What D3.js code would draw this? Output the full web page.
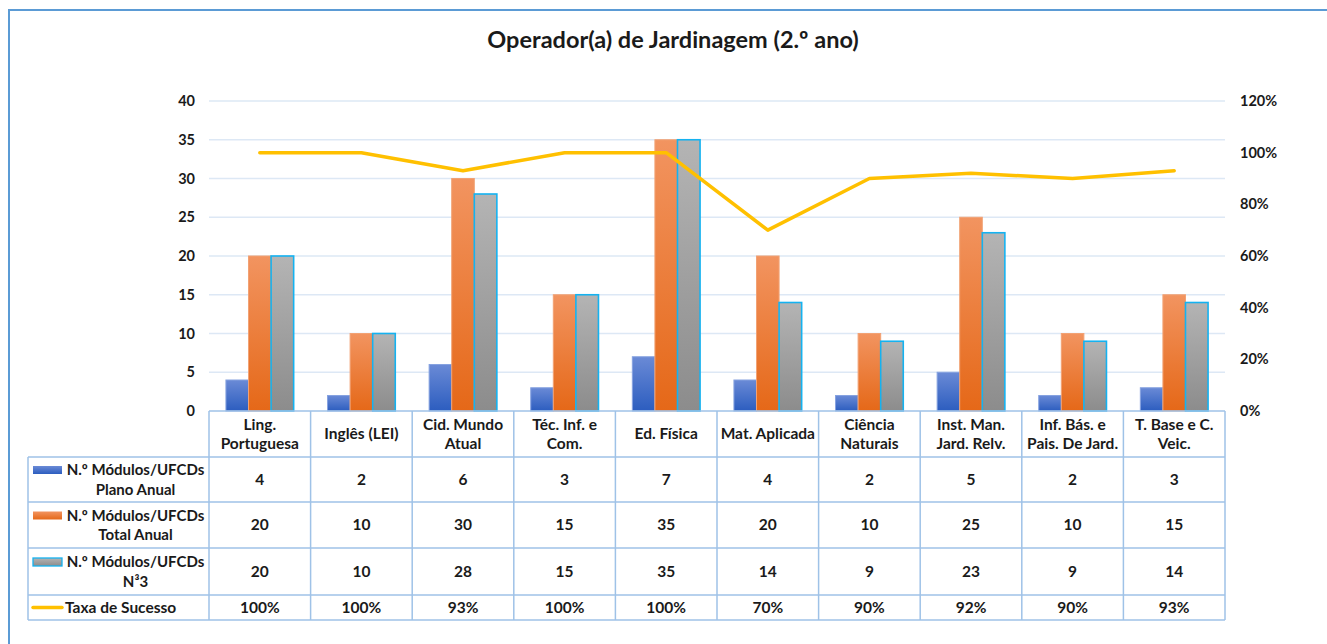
<!DOCTYPE html>
<html>
<head>
<meta charset="utf-8">
<script src="https://cdn.jsdelivr.net/npm/d3@7/dist/d3.min.js"></script>
<style>
  html, body { margin: 0; padding: 0; background: #fff; }
  svg { display: block; }
  text { font-family: Lato, "Open Sans", sans-serif; font-weight: bold; fill: #1a1a1a; }
</style>
</head>
<body>
<svg id="chart" width="1327" height="644"></svg>
<script>
// Chart data
const categories = [
  ['Ling.', 'Portuguesa'], ['Inglês (LEI)'], ['Cid. Mundo', 'Atual'], ['Téc. Inf. e', 'Com.'],
  ['Ed. Física'], ['Mat. Aplicada'], ['Ciência', 'Naturais'], ['Inst. Man.', 'Jard. Relv.'],
  ['Inf. Bás. e', 'Pais. De Jard.'], ['T. Base e C.', 'Veic.']
];
const planoAnual = [4, 2, 6, 3, 7, 4, 2, 5, 2, 3];
const totalAnual = [20, 10, 30, 15, 35, 20, 10, 25, 10, 15];
const nivel3 = [20, 10, 28, 15, 35, 14, 9, 23, 9, 14];
const taxaSucesso = [1.00, 1.00, 0.93, 1.00, 1.00, 0.70, 0.90, 0.92, 0.90, 0.93];
const seriesNames = [
  ['N.º Módulos/UFCDs', 'Plano Anual'],
  ['N.º Módulos/UFCDs', 'Total Anual'],
  ['N.º Módulos/UFCDs', 'N³3'],
  ['Taxa de Sucesso']
];
const leftTicks = [0, 5, 10, 15, 20, 25, 30, 35, 40];
const rightTicks = [0, 0.2, 0.4, 0.6, 0.8, 1.0, 1.2];

const svg = d3.select('#chart');
const plot = { left: 209, right: 1225, top: 101, bottom: 411 };
const gridColor = '#dde8f5';
const tableColor = '#9fc2e7';
const tableFont = '15.5px';

// outer frame (right and bottom edges fall outside the window)
svg.append('path')
  .attr('d', 'M 9,650 V 10 H 1340')
  .attr('fill', 'none')
  .attr('stroke', '#5b9bd5')
  .attr('stroke-width', 2);

svg.append('text')
  .attr('x', 673).attr('y', 48)
  .attr('text-anchor', 'middle')
  .style('font-size', '23.5px')
  .text('Operador(a) de Jardinagem (2.º ano)');

const x = d3.scaleBand().domain(d3.range(categories.length)).range([plot.left, plot.right]);
const xInner = d3.scaleBand().domain([0, 1, 2]).range([0, x.bandwidth()]).paddingInner(0).paddingOuter(0.75);
const y = d3.scaleLinear().domain([0, 40]).range([plot.bottom, plot.top]);
const y2 = d3.scaleLinear().domain([0, 1.2]).range([plot.bottom, plot.top]);

// gridlines
svg.append('g').selectAll('line').data(leftTicks.slice(1)).join('line')
  .attr('x1', plot.left).attr('x2', plot.right)
  .attr('y1', d => y(d)).attr('y2', d => y(d))
  .attr('stroke', gridColor).attr('stroke-width', 1.3);

// axes
const leftAxis = svg.append('g')
  .attr('transform', `translate(${plot.left - 10},0)`)
  .call(d3.axisLeft(y).tickValues(leftTicks).tickSize(0).tickPadding(4));
const rightAxis = svg.append('g')
  .attr('transform', `translate(${plot.right + 10},0)`)
  .call(d3.axisRight(y2).tickValues(rightTicks).tickSize(0).tickPadding(5).tickFormat(d3.format('.0%')));
[leftAxis, rightAxis].forEach(a => {
  a.select('.domain').remove();
  a.selectAll('text').style('font-size', '14.5px').style('font-family', null).attr('fill', '#1a1a1a');
});

// gradients
const defs = svg.append('defs');
const grads = [
  { id: 'gBlue', top: '#6a8ad6', bottom: '#2c5dbf', stroke: '#86a2e0', sw: 1 },
  { id: 'gOrange', top: '#f29460', bottom: '#e56818', stroke: '#f2a274', sw: 1 },
  { id: 'gGray', top: '#b4b4b4', bottom: '#8c8c8c', stroke: '#15b2f0', sw: 1.6 }
];
grads.forEach(g => {
  const lg = defs.append('linearGradient').attr('id', g.id)
    .attr('x1', 0).attr('y1', 0).attr('x2', 0).attr('y2', 1);
  lg.append('stop').attr('offset', '0%').attr('stop-color', g.top);
  lg.append('stop').attr('offset', '100%').attr('stop-color', g.bottom);
});

// bars
const barSeries = [planoAnual, totalAnual, nivel3];
barSeries.forEach((vals, s) => {
  svg.append('g').selectAll('rect').data(vals).join('rect')
    .attr('x', (d, i) => x(i) + xInner(s))
    .attr('width', xInner.bandwidth())
    .attr('y', d => y(d))
    .attr('height', d => y(0) - y(d))
    .attr('fill', `url(#${grads[s].id})`)
    .attr('stroke', grads[s].stroke)
    .attr('stroke-width', grads[s].sw);
});

// success rate line
svg.append('path')
  .datum(taxaSucesso)
  .attr('fill', 'none')
  .attr('stroke', '#ffc000')
  .attr('stroke-width', 3.5)
  .attr('stroke-linejoin', 'round')
  .attr('stroke-linecap', 'round')
  .attr('d', d3.line().x((d, i) => x(i) + x.bandwidth() / 2).y(d => y2(d)));

// data table
const rowEdges = [411, 457, 502, 548, 595, 620];
const tableLeft = 28;
const tbl = svg.append('g');
const line = (x1, y1, x2, y2) => tbl.append('line')
  .attr('x1', x1).attr('y1', y1).attr('x2', x2).attr('y2', y2)
  .attr('stroke', tableColor).attr('stroke-width', 1.5);

line(plot.left, rowEdges[0], plot.right, rowEdges[0]);
rowEdges.slice(1).forEach(ry => line(tableLeft, ry, plot.right, ry));
line(tableLeft, rowEdges[1], tableLeft, rowEdges[5]);
d3.range(categories.length + 1).forEach(i => {
  const cx = i < categories.length ? x(i) : plot.right;
  line(cx, rowEdges[0], cx, rowEdges[5]);
});

// category headers
categories.forEach((lines, i) => {
  const cx = x(i) + x.bandwidth() / 2;
  const cy = (rowEdges[0] + rowEdges[1]) / 2;
  lines.forEach((t, k) => {
    tbl.append('text')
      .attr('x', cx)
      .attr('y', cy + (k - (lines.length - 1) / 2) * 19)
      .attr('dy', '0.35em')
      .attr('text-anchor', 'middle')
      .style('font-size', tableFont)
      .text(t);
  });
});

// values rows
const rowValues = [planoAnual, totalAnual, nivel3, taxaSucesso.map(d => d3.format('.0%')(d))];
rowValues.forEach((vals, r) => {
  const cy = (rowEdges[r + 1] + rowEdges[r + 2]) / 2;
  vals.forEach((v, i) => {
    tbl.append('text')
      .attr('x', x(i) + x.bandwidth() / 2)
      .attr('y', cy)
      .attr('dy', '0.35em')
      .attr('text-anchor', 'middle')
      .style('font-size', tableFont)
      .text(v);
  });
});

// legend keys + series names
seriesNames.forEach((lines, r) => {
  const cy = (rowEdges[r + 1] + rowEdges[r + 2]) / 2;
  if (r < 3) {
    const firstY = cy - 9.5;
    tbl.append('rect')
      .attr('x', 33).attr('y', firstY - 4).attr('width', 29).attr('height', 8)
      .attr('fill', `url(#${grads[r].id})`)
      .attr('stroke', r === 2 ? grads[r].stroke : 'none')
      .attr('stroke-width', 1.3);
    lines.forEach((t, k) => {
      tbl.append('text')
        .attr('x', 135.5)
        .attr('y', firstY + k * 19.5)
        .attr('dy', '0.35em')
        .attr('text-anchor', 'middle')
        .style('font-size', '15px')
        .text(t);
    });
  } else {
    tbl.append('line')
      .attr('x1', 33).attr('x2', 62).attr('y1', cy).attr('y2', cy)
      .attr('stroke', '#ffc000').attr('stroke-width', 3.5).attr('stroke-linecap', 'round');
    tbl.append('text')
      .attr('x', 65).attr('y', cy).attr('dy', '0.35em')
      .style('font-size', tableFont)
      .text(lines[0]);
  }
});
</script>
</body>
</html>
